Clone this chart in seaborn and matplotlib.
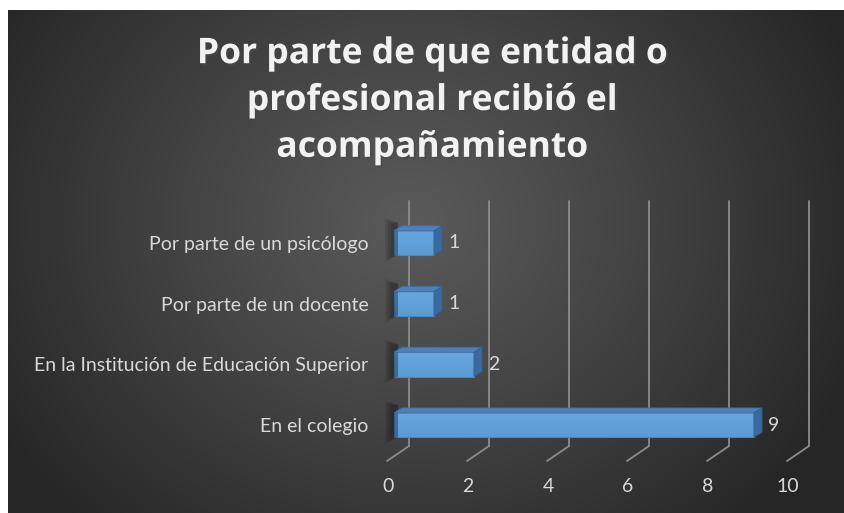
import numpy as np
import matplotlib
matplotlib.use("Agg")
import matplotlib.pyplot as plt
import matplotlib.transforms as mtransforms
from matplotlib.patches import Polygon
import matplotlib.patheffects as pe
import seaborn as sns
import pandas as pd

# datos
categorias = [
    "Por parte de un psicólogo",
    "Por parte de un docente",
    "En la Institución de Educación Superior",
    "En el colegio",
]
valores = [1, 1, 2, 9]
ticks_x = [0, 2, 4, 6, 8, 10]
titulo = "Por parte de que entidad o\nprofesional recibió el\nacompañamiento"

df = pd.DataFrame({"categoria": categorias, "valor": valores})

sns.set_theme(style="white")
plt.rcParams["font.family"] = ["Lato", "DejaVu Sans"]

W, H, DPI = 845, 513, 100
fig = plt.figure(figsize=(W / DPI, H / DPI), dpi=DPI)
fig.patch.set_facecolor("white")

# fondo con degradado radial
bg = fig.add_axes([8 / W, 0, (W - 8) / W, (H - 10) / H])
bg.set_axis_off()
yy, xx = np.mgrid[0:1:400j, 0:1:600j]
r = np.sqrt(((xx - 0.48) * 1.3) ** 2 + ((yy - 0.42) * 0.9) ** 2)
r = np.clip(r / 0.75, 0, 1)
c0, c1 = 0x5a / 255, 0x26 / 255
img = c0 + (c1 - c0) * r ** 1.1
bg.imshow(np.dstack([img, img, img]), aspect="auto", extent=[0, 1, 1, 0])
bg.set_xlim(0, 1)
bg.set_ylim(1, 0)

# ejes principales (plano frontal de las barras)
x0, x1 = 394, 794
ytop, ybot = 212.65, 455.45
ax = fig.add_axes([x0 / W, 1 - ybot / H, (x1 - x0) / W, (ybot - ytop) / H])
ax.patch.set_alpha(0)
for s in ax.spines.values():
    s.set_visible(False)

# barras con seaborn
sns.barplot(data=df, y="categoria", x="valor", orient="h", ax=ax,
            color="#5b9bd5", width=0.4, edgecolor="#4a86c0", linewidth=0.8,
            saturation=1, zorder=4)
ax.set_xlim(0, 10)
ax.set_ylim(3.5, -0.5)


def px(dx, dy):
    return mtransforms.ScaledTranslation(dx / DPI, -dy / DPI, fig.dpi_scale_trans)


blend = mtransforms.blended_transform_factory(ax.transData, ax.transAxes)
inv = fig.transFigure.inverted()


def fy(ypix):
    return (ybot - ypix) / (ybot - ytop)


# cuadricula (plano trasero) y piso inclinado
gcol = "#8c8c8c"
for t in ticks_x:
    ax.plot([t, t], [fy(446), fy(201)], color=gcol, lw=1.3,
            transform=blend + px(15, 0), clip_on=False, zorder=1)
    a = inv.transform((blend + px(15, 0)).transform((t, fy(446))))
    b = inv.transform((blend + px(-7, 0)).transform((t, fy(461))))
    fig.add_artist(plt.Line2D([a[0], b[0]], [a[1], b[1]], color=gcol, lw=1.3,
                              transform=fig.transFigure, zorder=2))

# caras 3D de las barras
dxp, dyp = 8, 5
off = np.array([dxp, dyp])
barras = list(ax.patches)
for p in barras:
    x, y = p.get_x(), p.get_y()
    w, h = p.get_width(), p.get_height()
    tr = ax.transData
    bl = tr.transform((x, y + h))
    br = tr.transform((x + w, y + h))
    tl = tr.transform((x, y))
    trr = tr.transform((x + w, y))
    top = [tl, trr, trr + off, tl + off]
    side = [trr, br, br + off, trr + off]
    fig.add_artist(Polygon(inv.transform(top), closed=True, transform=fig.transFigure,
                           facecolor="#4f80b8", edgecolor="#416fa3", lw=0.6, zorder=3))
    fig.add_artist(Polygon(inv.transform(side), closed=True, transform=fig.transFigure,
                           facecolor="#3a6aa0", edgecolor="#335f92", lw=0.6, zorder=3))
    # sombra difusa a la izquierda
    for k in range(5):
        e = 1 + k * 1.5
        shp = [bl + np.array([-2 - e, -e]), tl + np.array([-2 - e, 6 + e]),
               tl + np.array([4, 8]), bl + np.array([4, 0])]
        fig.add_artist(Polygon(inv.transform(shp), closed=True, transform=fig.transFigure,
                               facecolor="black", edgecolor="none", alpha=0.07, zorder=2.5))
    # etiqueta de valor
    ax.text(x + w, y + h / 2, f"{int(w)}", transform=ax.transData + px(14, 0),
            ha="left", va="center", fontsize=14, color="#d9d9d9", zorder=6)

# brillo suave en la cara frontal (mas claro arriba)
for p in barras:
    x, y, w, h = p.get_x(), p.get_y(), p.get_width(), p.get_height()
    n = 8
    for i in range(n):
        ax.barh(y + h * (i + 0.5) / n, w * 0.995, height=h / n, left=x + w * 0.0025,
                color="#7ab6ea", alpha=0.40 * (1 - i / n) ** 1.2, linewidth=0,
                edgecolor="none", zorder=4.5)

# etiquetas
ax.set_xticks([])
ax.set_yticks(range(len(categorias)))
ax.set_yticklabels(categorias, fontsize=14, color="#d9d9d9")
ax.tick_params(axis="y", length=0, pad=18.5)
ax.set_xlabel("")
ax.set_ylabel("")
for t in ticks_x:
    ax.text(t, fy(486), str(t), transform=blend + px(-6, 0), ha="center", va="center",
            fontsize=14, color="#d9d9d9", clip_on=False)

# titulo
fig.text(432 / W, 1 - 101 / H, titulo, ha="center", va="center",
         fontsize=25.5, fontweight="bold", color="#f2f2f2", linespacing=1.4,
         family=["Open Sans", "DejaVu Sans"],
         path_effects=[pe.withSimplePatchShadow(offset=(1.5, -1.5), alpha=0.6)])

fig.savefig("out.png", dpi=DPI, facecolor=fig.get_facecolor())
